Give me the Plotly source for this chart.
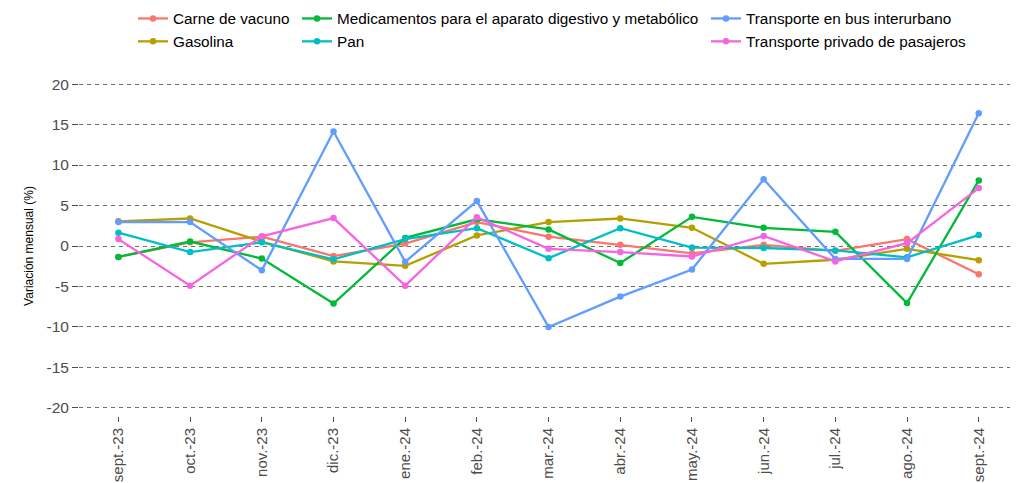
import plotly.graph_objects as go

meses = ["sept.-23", "oct.-23", "nov.-23", "dic.-23", "ene.-24", "feb.-24", "mar.-24",
         "abr.-24", "may.-24", "jun.-24", "jul.-24", "ago.-24", "sept.-24"]

carne = [-1.35, 0.45, 1.15, -1.25, 0.3, 2.95, 1.15, 0.15, -0.9, 0.15, -0.6, 0.85, -3.5]
gasolina = [3.05, 3.4, 0.55, -1.9, -2.45, 1.3, 2.95, 3.4, 2.25, -2.2, -1.7, -0.35, -1.75]
medicamentos = [-1.35, 0.55, -1.55, -7.1, 1.0, 3.3, 2.05, -2.1, 3.6, 2.25, 1.75, -7.05, 8.1]
pan = [1.65, -0.75, 0.45, -1.65, 0.85, 2.2, -1.5, 2.2, -0.2, -0.25, -0.55, -1.4, 1.35]
bus = [2.95, 2.95, -3.0, 14.15, -1.95, 5.55, -10.0, -6.25, -2.9, 8.25, -1.6, -1.6, 16.4]
privado = [0.85, -4.9, 1.2, 3.45, -4.9, 3.55, -0.35, -0.75, -1.3, 1.25, -1.9, 0.35, 7.15]

y_ticks = [-20, -15, -10, -5, 0, 5, 10, 15, 20]
y_ticktext = ["-20", "-15", "-10", "-5", "0", "5", "10", "15", "20"]

series = [
    ("Carne de vacuno", carne, "#F8766D", "legend"),
    ("Gasolina", gasolina, "#B79F00", "legend"),
    ("Medicamentos para el aparato digestivo y metabólico", medicamentos, "#00BA38", "legend2"),
    ("Pan", pan, "#00BFC4", "legend2"),
    ("Transporte en bus interurbano", bus, "#619CFF", "legend3"),
    ("Transporte privado de pasajeros", privado, "#F564E3", "legend3"),
]

fig = go.Figure()
for name, vals, col, lg in series:
    fig.add_trace(go.Scatter(
        x=meses, y=vals, name=name, mode="lines+markers",
        line=dict(color=col, width=2.3), marker=dict(color=col, size=6.5),
        legend=lg,
    ))

# page body has an 8px margin, so figure coords = screen coords - 8
W, H = 1010, 475
L, R, T, B = 71, 7, 0, 67
PW, PH = W - L - R, H - T - B
plot_top = 68  # figure pixel where plotting area begins
font = "Liberation Sans, Arial, sans-serif"
leg_common = dict(yanchor="top", xanchor="left", orientation="v",
                  bgcolor="rgba(0,0,0,0)",
                  font=dict(family=font, size=15.3, color="#000000"))
ytop = 1 + 6 / PH


def px(xpix):
    return (xpix - L) / PW


fig.update_layout(
    width=W, height=H,
    margin=dict(l=L, r=R, t=T, b=B, autoexpand=False),
    paper_bgcolor="white", plot_bgcolor="white",
    font=dict(family=font),
    legend=dict(x=px(125), y=ytop, **leg_common),
    legend2=dict(x=px(289), y=ytop, **leg_common),
    legend3=dict(x=px(698), y=ytop, **leg_common),
    xaxis=dict(
        type="category", range=[-0.55, 12.45], showgrid=False, zeroline=False,
        showline=False, ticks="outside", ticklen=5, tickcolor="#4D4D4D", tickwidth=1,
        tickangle=-90, tickfont=dict(family=font, size=15, color="#4D4D4D"),
    ),
    yaxis=dict(
        domain=[0, (PH - plot_top) / PH],
        range=[-21, 21], tickmode="array", tickvals=y_ticks, ticktext=y_ticktext,
        showgrid=True, gridcolor="#6E6E6E", griddash="4px,4px", gridwidth=1,
        zeroline=False, showline=False, ticks="outside", ticklen=6,
        tickcolor="#4D4D4D", tickwidth=1,
        tickfont=dict(family=font, size=15.5, color="#4D4D4D"),
        title=dict(text="Variación mensual (%)", font=dict(family=font, size=12, color="#000000"),
                   standoff=10),
    ),
)

fig.write_html("out.html")
